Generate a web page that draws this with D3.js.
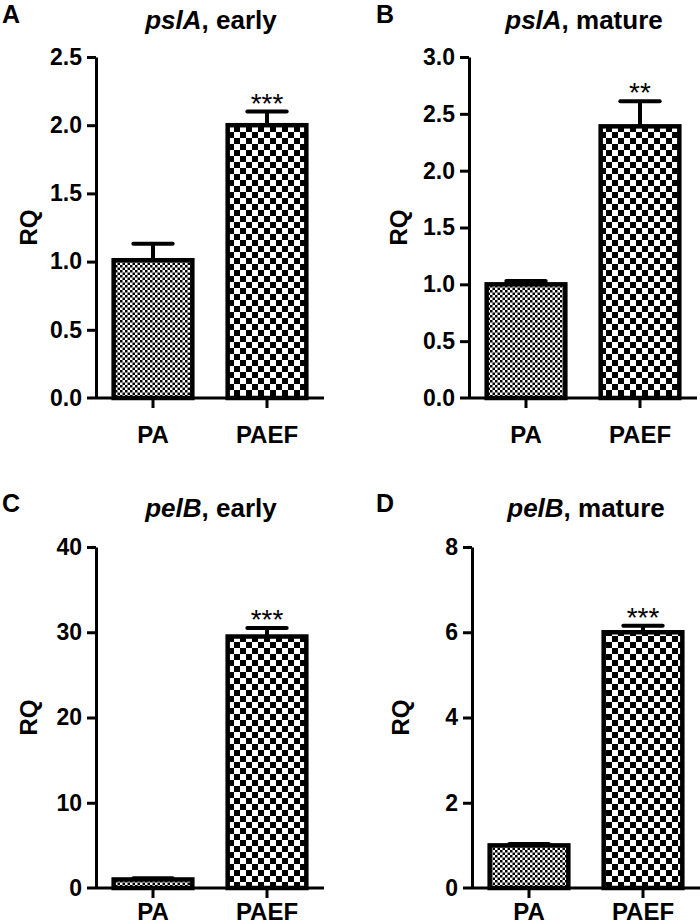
<!DOCTYPE html>
<html><head><meta charset="utf-8">
<script src="https://cdn.jsdelivr.net/npm/d3@7"></script>
<style>
html,body{margin:0;padding:0;background:#fff;}
svg{display:block;font-family:"Liberation Sans",Arial,sans-serif;}
</style></head>
<body>
<svg id="chart" width="700" height="924"></svg>
<script>
// ---- data ----
const categories = ["PA", "PAEF"];
const panelLetters = ["A", "B", "C", "D"];
const genes = ["pslA", "pslA", "pelB", "pelB"];
const stages = ["early", "mature", "early", "mature"];
const yMaxes = [2.5, 3.0, 40, 8];
const yTicksA = [0, 0.5, 1.0, 1.5, 2.0, 2.5];
const yTicksB = [0, 0.5, 1.0, 1.5, 2.0, 2.5, 3.0];
const yTicksC = [0, 10, 20, 30, 40];
const yTicksD = [0, 2, 4, 6, 8];
const meansA = [1.01, 2.00];
const errsA = [0.12, 0.10];
const meansB = [1.00, 2.39];
const errsB = [0.03, 0.22];
const meansC = [1.0, 29.5];
const errsC = [0.15, 1.0];
const meansD = [1.0, 6.0];
const errsD = [0.03, 0.15];
const starsA = ["", "***"];
const starsB = ["", "**"];
const starsC = ["", "***"];
const starsD = ["", "***"];
const yLabel = "RQ";

// ---- layout (positions/styles) ----
const layout = [
  {x0: 96,  top: 57,  bottom: 398, letterX: 2,   letterY: 23,  titleX: 211, titleY: 29,  labelX: 29,  catPad: 18, fmt: ".1f"},
  {x0: 469, top: 57,  bottom: 398, letterX: 376, letterY: 23,  titleX: 584, titleY: 29,  labelX: 399, catPad: 18, fmt: ".1f"},
  {x0: 96,  top: 547, bottom: 888, letterX: 2,   letterY: 512, titleX: 211, titleY: 517, labelX: 29,  catPad: 5,  fmt: "d"},
  {x0: 472, top: 547, bottom: 888, letterX: 376, letterY: 512, titleX: 586, titleY: 517, labelX: 401, catPad: 5,  fmt: "d"}
];
const ticksList = [yTicksA, yTicksB, yTicksC, yTicksD];
const meansList = [meansA, meansB, meansC, meansD];
const errsList = [errsA, errsB, errsC, errsD];
const starsList = [starsA, starsB, starsC, starsD];

const svg = d3.select("#chart");
const defs = svg.append("defs");

// fine checkerboard
const fine = defs.append("pattern").attr("id", "fine").attr("patternUnits", "userSpaceOnUse")
  .attr("width", 5).attr("height", 5);
fine.append("rect").attr("width", 5).attr("height", 5).attr("fill", "#fff");
fine.append("rect").attr("width", 2.5).attr("height", 2.5).attr("fill", "#000");
fine.append("rect").attr("x", 2.5).attr("y", 2.5).attr("width", 2.5).attr("height", 2.5).attr("fill", "#000");
// coarse checkerboard
const coarse = defs.append("pattern").attr("id", "coarse").attr("patternUnits", "userSpaceOnUse")
  .attr("width", 12).attr("height", 12);
coarse.append("rect").attr("width", 12).attr("height", 12).attr("fill", "#fff");
coarse.append("rect").attr("width", 6).attr("height", 6).attr("fill", "#000");
coarse.append("rect").attr("x", 6).attr("y", 6).attr("width", 6).attr("height", 6).attr("fill", "#000");
const fills = ["url(#fine)", "url(#coarse)"];

layout.forEach((L, i) => {
  const g = svg.append("g");
  const x = d3.scaleBand().domain(categories).range([L.x0, L.x0 + 228])
    .paddingInner(0.31).paddingOuter(0.155);
  const y = d3.scaleLinear().domain([0, yMaxes[i]]).range([L.bottom, L.top]);
  const data = categories.map((c, k) => ({c, v: meansList[i][k], e: errsList[i][k], s: starsList[i][k], k}));

  // bars
  g.selectAll("rect.bar").data(data).enter().append("rect")
    .attr("class", "bar")
    .attr("x", d => x(d.c)).attr("width", x.bandwidth())
    .attr("y", d => y(d.v)).attr("height", d => y(0) - y(d.v))
    .attr("fill", d => fills[d.k]).attr("stroke", "#000").attr("stroke-width", 4.5);

  // error bars (upper only)
  const capW = x.bandwidth() / 2;
  g.selectAll("line.err").data(data).enter().append("line")
    .attr("x1", d => x(d.c) + x.bandwidth() / 2).attr("x2", d => x(d.c) + x.bandwidth() / 2)
    .attr("y1", d => y(d.v)).attr("y2", d => y(d.v + d.e))
    .attr("stroke", "#000").attr("stroke-width", 4);
  g.selectAll("line.cap").data(data).enter().append("line")
    .attr("x1", d => x(d.c) + x.bandwidth() / 2 - capW / 2).attr("x2", d => x(d.c) + x.bandwidth() / 2 + capW / 2)
    .attr("y1", d => y(d.v + d.e)).attr("y2", d => y(d.v + d.e))
    .attr("stroke", "#000").attr("stroke-width", 4).attr("stroke-linecap", "round");

  // stars
  g.selectAll("text.star").data(data.filter(d => d.s)).enter().append("text")
    .attr("x", d => x(d.c) + x.bandwidth() / 2).attr("y", d => y(d.v + d.e) + 1)
    .attr("text-anchor", "middle").attr("font-size", 28).text(d => d.s);

  // y axis
  const yAxis = d3.axisLeft(y).tickValues(ticksList[i]).tickFormat(d3.format(L.fmt))
    .tickSize(9).tickSizeOuter(0).tickPadding(5);
  const ya = g.append("g").attr("transform", `translate(${L.x0},0)`).call(yAxis);
  ya.select(".domain").attr("stroke-width", 3);
  ya.selectAll(".tick line").attr("stroke-width", 3);
  ya.selectAll(".tick").filter(d => d === 0).select("line").remove();
  ya.selectAll("text").attr("font-size", 23).attr("font-weight", "bold")
    .attr("font-family", "'Liberation Sans',Arial,sans-serif").attr("fill", "#000");

  // x axis
  const xAxis = d3.axisBottom(x).tickSize(10).tickSizeOuter(0).tickPadding(L.catPad);
  const xa = g.append("g").attr("transform", `translate(0,${L.bottom})`).call(xAxis);
  xa.select(".domain").remove();
  xa.selectAll(".tick line").attr("stroke-width", 3);
  xa.selectAll("text").attr("font-size", 24).attr("font-weight", "bold")
    .attr("font-family", "'Liberation Sans',Arial,sans-serif").attr("fill", "#000");
  g.append("line").attr("x1", L.x0 - 9).attr("x2", L.x0 + 228)
    .attr("y1", L.bottom).attr("y2", L.bottom).attr("stroke", "#000").attr("stroke-width", 3);

  // y label
  g.append("text").attr("transform", `translate(${L.labelX},${(L.top + L.bottom) / 2}) rotate(-90)`)
    .attr("text-anchor", "middle").attr("dy", "0.35em")
    .attr("font-size", 24).attr("font-weight", "bold").text(yLabel);

  // title
  const t = g.append("text").attr("x", L.titleX).attr("y", L.titleY)
    .attr("text-anchor", "middle").attr("font-size", 26).attr("font-weight", "bold");
  t.append("tspan").attr("font-style", "italic").text(genes[i]);
  t.append("tspan").text(", " + stages[i]);

  // panel letter
  g.append("text").attr("x", L.letterX).attr("y", L.letterY)
    .attr("font-size", 25).attr("font-weight", "bold").text(panelLetters[i]);
});
</script>
</body></html>
